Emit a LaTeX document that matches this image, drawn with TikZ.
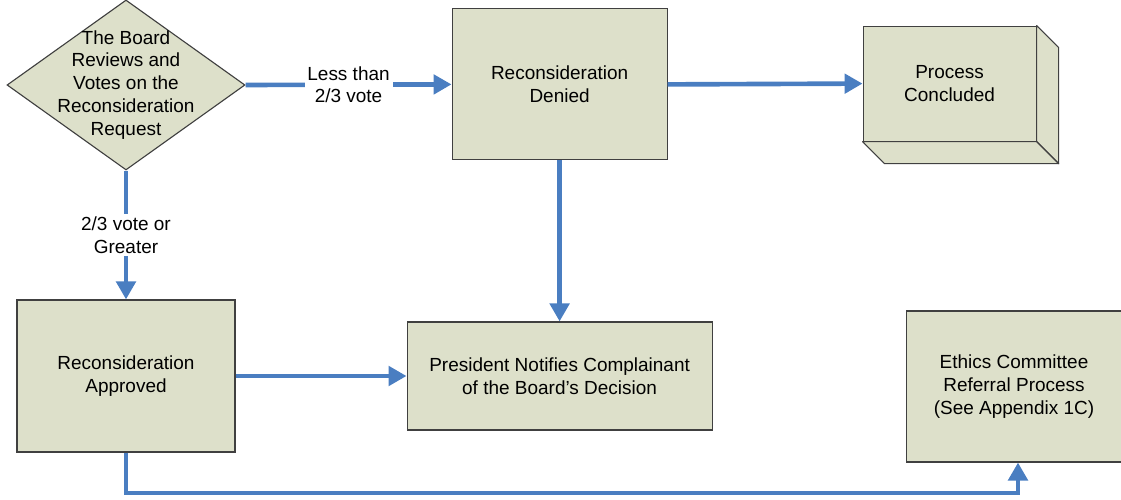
\documentclass[tikz,border=0pt]{standalone}
\usepackage{fontspec}
\setmainfont{Liberation Sans}
\usetikzlibrary{shapes.geometric, arrows.meta}
\definecolor{boxfill}{RGB}{221,224,202}
\definecolor{flowblue}{RGB}{74,126,193}

\begin{document}
\begin{tikzpicture}[font=\fontsize{13.5}{16.3}\selectfont,
  stepbox/.style={rectangle, draw=black!75, line width=0.8pt, fill=boxfill, align=center},
  flow/.style={draw=flowblue, line width=3.3pt, -{Triangle[length=0.45cm,width=0.48cm]}},
  flowlabel/.style={fill=white, align=center, inner sep=2pt}]
\useasboundingbox (0,0) rectangle (28.025,12.5);
\node[diamond, draw=black!75, line width=0.8pt, fill=boxfill, minimum width=5.95cm, minimum height=4.25cm, inner sep=0pt] (vote) at (3.15,10.375) {}; 
\node[align=center] (votetext) at (3.15,10.375) {The Board\\Reviews and\\Votes on the\\Reconsideration\\Request}; 
\node[stepbox, minimum width=5.375cm, minimum height=3.775cm] (denied) at (13.99,10.39) {Reconsideration\\Denied}; 
\node[stepbox, minimum width=4.325cm, minimum height=2.875cm] (concluded) at (23.74,10.41) {Process\\Concluded}; 
\node[stepbox, minimum width=5.45cm, minimum height=3.8cm] (approved) at (3.15,3.1) {Reconsideration\\Approved}; 
\node[stepbox, minimum width=7.625cm, minimum height=2.7cm] (president) at (13.99,3.1) {President Notifies Complainant\\of the Board’s Decision}; 
\node[stepbox, minimum width=5.7cm, minimum height=3.775cm, anchor=west] (ethics) at (22.65,2.8375) {}; 
\node[align=center] (ethicstext) at (25.35,2.8375) {Ethics Committee\\Referral Process\\(See Appendix 1C)}; 

\fill[boxfill, draw=black!75, line width=0.8pt, line join=round] (concluded.north east) -- ++(0.55,-0.55) -- ([shift={(0.55,-0.55)}]concluded.south east) -- (concluded.south east) -- cycle; 
\fill[boxfill, draw=black!75, line width=0.8pt, line join=round] (concluded.south west) -- ++(0.55,-0.55) -- ([shift={(0.55,-0.55)}]concluded.south east) -- (concluded.south east) -- cycle; 

\coordinate (corner1) at (3.15,0.175); 
\coordinate (corner2) at (25.45,0.175); 
\coordinate (ethicsin) at (25.45,0 |- ethics.south); 

\draw[flow] (vote.east) -- (denied.west) node[flowlabel, midway] (lessthan) {Less than\\2/3 vote}; 
\draw[flow] (vote.south) -- (approved.north) node[flowlabel, midway] (greater) {2/3 vote or\\Greater}; 
\draw[flow] (denied.east) -- (concluded.west); 
\draw[flow] (denied.south) -- (president.north); 
\draw[flow] (approved.east) -- (president.west); 
\draw[flow] (approved.south) -- (corner1) -- (corner2) -- (ethicsin); 
\end{tikzpicture}
\end{document}
